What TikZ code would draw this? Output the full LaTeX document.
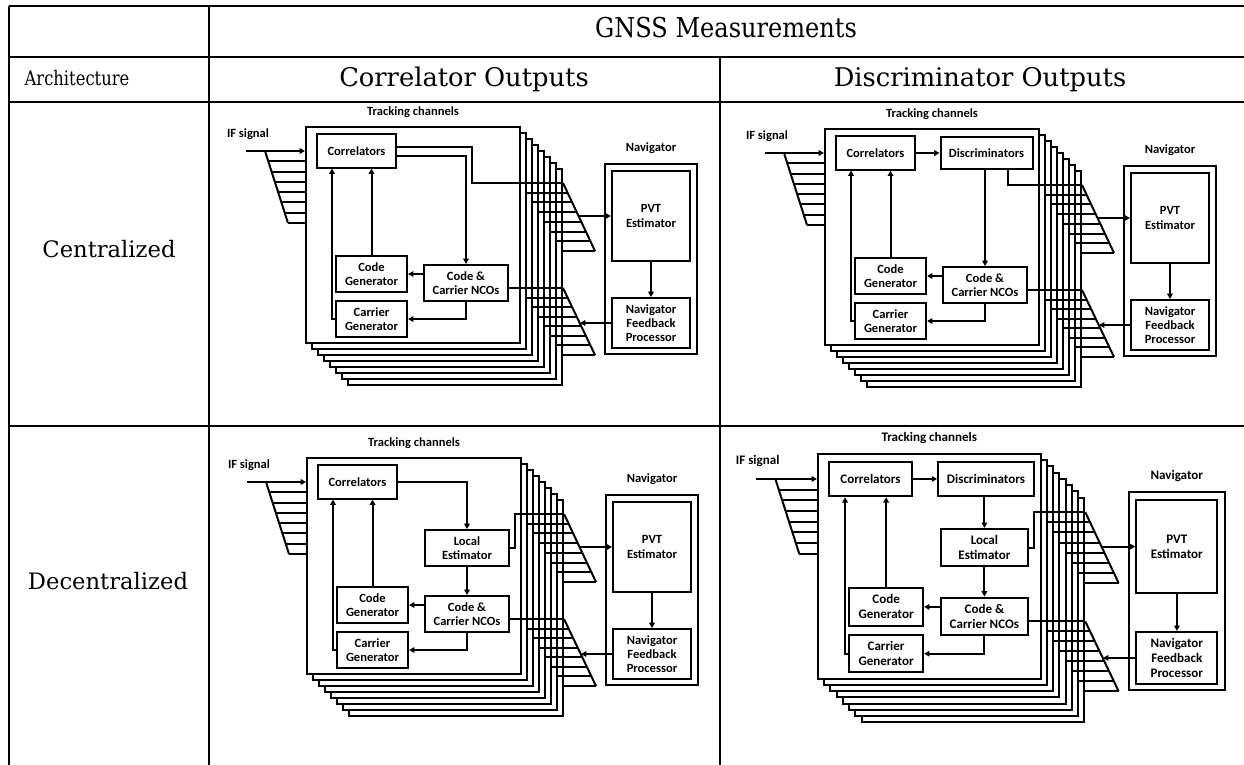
\documentclass[tikz,border=0pt]{standalone}
\usepackage{fontspec}
\setmainfont{DejaVu Serif}
\newfontfamily\blkfont{Carlito}
\usetikzlibrary{arrows.meta,calc}

% parts shared by the four receiver sketches
\newcommand{\chanframe}{%
  \foreach \k in {7,...,1}
    \draw[chanbox] ({6*\k},{6*\k}) rectangle ++(214,216);
  \node[chanbox, minimum width=160.5pt, minimum height=162pt] (chan) at (107,108) {};
  \node[lbl] (trk) at (107,-15) {Tracking channels};
  \node[lbl] (ifl) at (-58,7) {IF signal};
  % IF signal fan
  \coordinate (ifin) at (-60,24);
  \draw[wire] (-41,24) -- (-18,96);
  \foreach \k in {1,...,7}
    \draw[wire] ({-41+23*\k/7},{24+72*\k/7}) -- (0,{24+72*\k/7});
  \draw[arr] (ifin) -- (ifin -| chan.west);
  % fans towards the navigator
  \coordinate (uft) at (257,56);
  \coordinate (lft) at (257,161);
  \draw[wire] (uft) -- (289,124);
  \draw[wire] (lft) -- (289,228);
  \foreach \k in {1,...,7}{
    \draw[wire] ({214+6*\k},{56+68*\k/7}) -- ({257+32*\k/7},{56+68*\k/7});
    \draw[wire] ({214+6*\k},{161+67*\k/7}) -- ({257+32*\k/7},{161+67*\k/7});
  }
  % navigator
  \node[lbl] (navl) at (345,21) {Navigator};
  \node[blk, minimum width=69pt, minimum height=142.5pt] (nav) at (345,132) {};
  \node[blk, minimum width=58.5pt, minimum height=67.5pt] (pvt) at (345,89) {PVT\\Estimator};
  \node[blk, minimum width=58.5pt, minimum height=37.5pt] (nfp) at (345,196) {Navigator\\Feedback\\Processor};
  \coordinate (pin) at (273,89);
  \coordinate (fin) at (274,196);
  \draw[arr] (pin) -- (pvt.west);
  \draw[arr] (pvt.south) -- (nfp.north);
  \draw[arr] (nfp.west) -- (fin);
  % tracking loop
  \node[blk, minimum width=59.3pt, minimum height=24.8pt] (corr) at (50.5,24) {Correlators};
  \node[blk, minimum width=53.3pt, minimum height=27pt] (codegen) at (65.5,147) {Code\\Generator};
  \node[blk, minimum width=53.3pt, minimum height=27pt] (carrgen) at (65.5,192) {Carrier\\Generator};
  \node[blk, minimum width=63pt, minimum height=27pt] (nco) at (160,156) {Code \&\\Carrier NCOs};
  \coordinate (cl) at (26,40);
  \draw[arr] (codegen.north) -- (codegen.north |- corr.south);
  \draw[arr] (carrgen.west) -| (cl |- corr.south);
  \draw[arr] (nco.west |- codegen) -- (codegen.east);
  \draw[arr] (nco.south) |- (carrgen.east);
  \draw[wire] (nco.east |- lft) -- (lft);
}

\begin{document}
\begin{tikzpicture}[
    x=0.75pt, y=-0.75pt,
    grid/.style={line width=1.5pt},
    wire/.style={line width=1.5pt},
    arr/.style={wire, -{Triangle[length=4pt,width=4.2pt]}},
    chanbox/.style={draw, line width=1.5pt, fill=white, inner sep=0pt},
    blk/.style={draw, line width=1.5pt, fill=white, align=center, inner sep=0pt,
      font=\blkfont\bfseries\fontsize{9.4}{10.7}\selectfont},
    lbl/.style={font=\blkfont\bfseries\fontsize{9.4}{11}\selectfont},
    hdr/.style={anchor=base, inner sep=0pt}
  ]
  \useasboundingbox (0,0) rectangle (1244,764);

  % table
  \draw[grid] (9,6) -- (1250,6);
  \draw[grid] (9,57) -- (1250,57);
  \draw[grid] (9,102) -- (1250,102);
  \draw[grid] (9,426) -- (1250,426);
  \draw[grid] (9,6) -- (9,770);
  \draw[grid] (209,6) -- (209,770);
  \draw[grid] (720,57) -- (720,770);

  \node[hdr, xscale=0.88, font=\fontsize{20.5}{24}\selectfont] (gnss) at (726,37) {GNSS Measurements};
  \node[hdr, xscale=0.82, font=\fontsize{15}{18}\selectfont] (arch) at (77,85) {Architecture};
  \node[hdr, font=\fontsize{19.3}{22}\selectfont] (corrout) at (464,86) {Correlator Outputs};
  \node[hdr, font=\fontsize{19.3}{22}\selectfont] (discout) at (980,86) {Discriminator Outputs};
  \node[hdr, font=\fontsize{17}{20}\selectfont] (central) at (109,257) {Centralized};
  \node[hdr, font=\fontsize{17}{20}\selectfont] (decentral) at (108,589) {Decentralized};

  % centralized, correlator outputs
  \begin{scope}[shift={(306,127)}]
    \chanframe
    \coordinate (out) at (166,56);
    \draw[wire] ([yshift=3pt]corr.east) -| (out) -- (uft);
    \draw[arr] ([yshift=-3.75pt]corr.east) -| (nco.north);
  \end{scope}

  % centralized, discriminator outputs
  \begin{scope}[shift={(825,129)}]
    \chanframe
    \node[blk, minimum width=69pt, minimum height=24pt] (disc) at (161.5,24) {Discriminators};
    \draw[arr] (corr.east) -- (disc.west);
    \draw[arr] (nco.north |- disc.south) -- (nco.north);
    \coordinate (out) at (183,56);
    \draw[wire] (out |- disc.south) -- (out) -- (uft);
  \end{scope}

  % decentralized, correlator outputs
  \begin{scope}[shift={(307,458)}]
    \chanframe
    \node[blk, minimum width=63pt, minimum height=27pt] (local) at (160,90) {Local\\Estimator};
    \draw[arr] (corr.east) -| (local.north);
    \draw[arr] (local.south) -- (nco.north);
    \coordinate (out) at (208,56);
    \draw[wire] (local.east) -| (out) -- (uft);
  \end{scope}

  % decentralized, discriminator outputs
  \begin{scope}[shift={(818,454)}, scale=1.04, transform shape]
    \chanframe
    \node[blk, minimum width=69pt, minimum height=24pt] (disc) at (161.5,24) {Discriminators};
    \node[blk, minimum width=63pt, minimum height=27pt] (local) at (160,90) {Local\\Estimator};
    \draw[arr] (corr.east) -- (disc.west);
    \draw[arr] (local.north |- disc.south) -- (local.north);
    \draw[arr] (local.south) -- (nco.north);
    \coordinate (out) at (208,56);
    \draw[wire] (local.east) -| (out) -- (uft);
  \end{scope}
\end{tikzpicture}
\end{document}
